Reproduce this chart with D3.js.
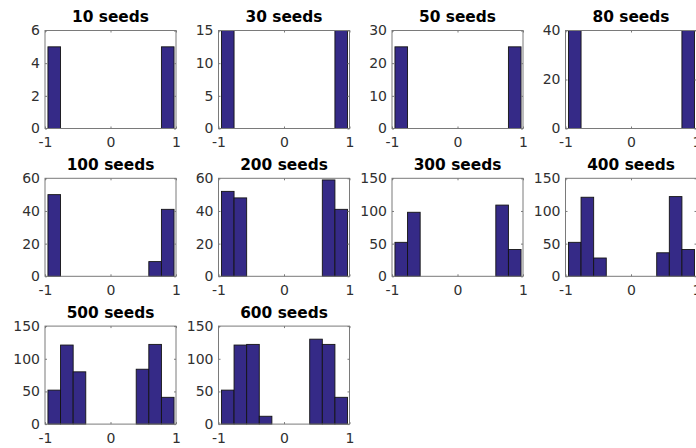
<!DOCTYPE html>
<html>
<head>
<meta charset="utf-8">
<script src="https://cdn.jsdelivr.net/npm/d3@7"></script>
<style>
  body { margin: 0; background: #fff; }
  svg text { font-family: "DejaVu Sans", sans-serif; }
</style>
</head>
<body>
<svg id="chart" width="696" height="448"></svg>
<script>
// Number of seeds in each run (one panel per run)
const seedCounts = [10, 30, 50, 80, 100, 200, 300, 400, 500, 600];

// Counts in 10 equal-width bins spanning the observed sample range
const binCounts = [
  [5, 0, 0, 0, 0, 0, 0, 0, 0, 5],
  [15, 0, 0, 0, 0, 0, 0, 0, 0, 15],
  [25, 0, 0, 0, 0, 0, 0, 0, 0, 25],
  [40, 0, 0, 0, 0, 0, 0, 0, 0, 40],
  [50, 0, 0, 0, 0, 0, 0, 0, 9, 41],
  [52, 48, 0, 0, 0, 0, 0, 0, 59, 41],
  [52, 98, 0, 0, 0, 0, 0, 0, 109, 41],
  [52, 121, 28, 0, 0, 0, 0, 36, 122, 41],
  [52, 121, 80, 0, 0, 0, 0, 84, 122, 41],
  [52, 121, 122, 12, 0, 0, 0, 130, 122, 41]
];

// Smallest and largest sample value (outer bin edges)
const sampleRange = [-0.955, 0.97];

// Axis limits and tick labels
const xLimits = [-1, 1];
const xTicks = [-1, 0, 1];
const yMax = [6, 15, 30, 40, 60, 60, 150, 150, 150, 150];
const yTicks = [
  [0, 2, 4, 6],
  [0, 5, 10, 15],
  [0, 10, 20, 30],
  [0, 20, 40],
  [0, 20, 40, 60],
  [0, 20, 40, 60],
  [0, 50, 100, 150],
  [0, 50, 100, 150],
  [0, 50, 100, 150],
  [0, 50, 100, 150]
];

const svg = d3.select("#chart");
const nCols = 4;
const panelW = 131, panelH = 98;
const colX = c => 45 + c * 173.5;
const rowY = r => 30.5 + r * 147.8;
const barFill = "#352a87";
const axisGray = "#7a7a7a";
const textGray = "#303030";

seedCounts.forEach((n, i) => {
  const r = Math.floor(i / nCols), c = i % nCols;
  const g = svg.append("g").attr("transform", `translate(${colX(c)},${rowY(r)})`);

  const x = d3.scaleLinear().domain(xLimits).range([0, panelW]);
  const y = d3.scaleLinear().domain([0, yMax[i]]).range([panelH, 0]);

  const step = (sampleRange[1] - sampleRange[0]) / binCounts[i].length;
  const bins = binCounts[i].map((v, k) => ({
    x0: sampleRange[0] + k * step,
    x1: sampleRange[0] + (k + 1) * step,
    count: v
  })).filter(d => d.count > 0);

  g.selectAll("rect.bar")
    .data(bins)
    .join("rect")
    .attr("class", "bar")
    .attr("x", d => x(d.x0))
    .attr("width", d => x(d.x1) - x(d.x0))
    .attr("y", d => y(d.count))
    .attr("height", d => y(0) - y(d.count))
    .attr("fill", barFill)
    .attr("stroke", "#141414")
    .attr("stroke-width", 0.9);

  // Axes with inward ticks on all four sides
  const styleAxis = sel => {
    sel.select(".domain").remove();
    sel.selectAll(".tick line").attr("stroke", axisGray);
    sel.selectAll(".tick text")
      .attr("fill", textGray)
      .style("font-size", "14px")
      .style("font-family", "'DejaVu Sans', sans-serif");
  };

  g.append("g")
    .attr("transform", `translate(0,${panelH})`)
    .call(d3.axisBottom(x).tickValues(xTicks).tickFormat(d3.format("d")).tickSize(-2).tickPadding(8.5))
    .call(styleAxis);
  g.append("g")
    .call(d3.axisTop(x).tickValues(xTicks).tickFormat("").tickSize(-2))
    .call(styleAxis);
  g.append("g")
    .call(d3.axisLeft(y).tickValues(yTicks[i]).tickFormat(d3.format("d")).tickSize(-2).tickPadding(5))
    .call(styleAxis);
  g.append("g")
    .attr("transform", `translate(${panelW},0)`)
    .call(d3.axisRight(y).tickValues(yTicks[i]).tickFormat("").tickSize(-2))
    .call(styleAxis);

  g.selectAll("text").filter(function () { return this.textContent.startsWith("−"); })
    .text(function () { return this.textContent.replace("−", "-"); });

  g.append("rect")
    .attr("x", 0).attr("y", 0)
    .attr("width", panelW).attr("height", panelH)
    .attr("fill", "none")
    .attr("stroke", axisGray)
    .attr("stroke-width", 1);

  g.append("text")
    .attr("x", panelW / 2)
    .attr("y", -8.5)
    .attr("text-anchor", "middle")
    .attr("font-weight", "bold")
    .attr("font-size", "15.4px")
    .attr("fill", "#000")
    .text(`${n} seeds`);
});
</script>
</body>
</html>
